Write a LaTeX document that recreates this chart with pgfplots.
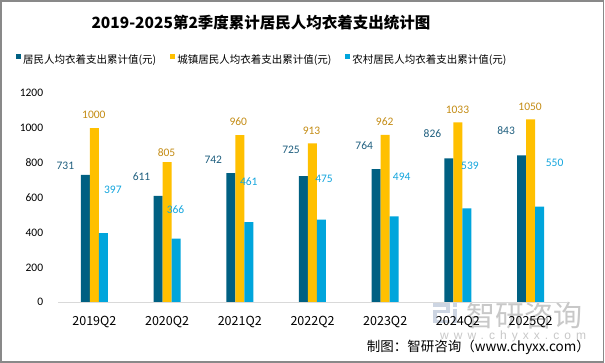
\documentclass[border=0pt]{standalone}
\usepackage{pgfplots}
\pgfplotsset{compat=1.18}
\usepackage{pgfplotstable}
\usepackage{fontspec}
\setmainfont{Carlito}
\newfontfamily\cjk{Noto Sans CJK SC}
\newfontfamily\wmfont{Liberation Sans}[LetterSpace=42]
\definecolor{cA}{RGB}{0,96,130}
\definecolor{cB}{RGB}{255,192,0}
\definecolor{cC}{RGB}{0,165,220}
\definecolor{lA}{RGB}{31,95,127}
\definecolor{lB}{RGB}{196,140,20}
\definecolor{lC}{RGB}{20,166,222}
\definecolor{axgray}{RGB}{217,217,217}
\definecolor{frame}{RGB}{137,137,137}
\definecolor{wmgray}{RGB}{200,200,200}
\definecolor{wmblue}{RGB}{205,213,226}
\newcommand{\legfont}{\cjk\fontsize{10.5bp}{12bp}\selectfont}

\pgfplotstableread{
x a b c adx ady bdx bdy cdx cdy
0 731 1000 397 -20 9.0 -0.5 13.1 9.5 43.2
1 611 805 366 -16.5 19.2 -0.5 9.4 -0.5 28.6
2 742 960 461 -17.5 13.1 -1.5 13.1 0 40
3 725 913 475 -12.5 26 -1 12.3 2.5 40.6
4 764 962 494 -12 23.2 -0.5 12.7 7.5 39.3
5 826 1033 539 -16.5 24.4 -0.5 12.4 3 42.4
6 843 1050 550 -15.5 24.5 -0.5 12.7 15 43.8
}\datatable

\begin{document}
\begin{tikzpicture}
\path[use as bounding box] (0,0) rectangle (605bp,363bp);
\fill[white] (0,0) rectangle (605bp,363bp);
\draw[frame, line width=1.5bp] (1bp,1bp) rectangle (603.5bp,362bp);

% watermark
\begin{scope}[wmblue]
\fill (433bp,56bp) rectangle (450bp,60bp);
\fill (446bp,50bp) rectangle (450bp,60bp);
\fill (433bp,50bp) rectangle (450bp,53bp);
\fill (433bp,40bp) rectangle (437bp,53bp);
\fill (433bp,40bp) rectangle (450bp,43bp);
\fill (453bp,56bp) rectangle (457bp,60bp);
\fill (453bp,40bp) rectangle (457bp,54bp);
\end{scope}
\node[wmgray, font=\cjk\fontsize{29bp}{32bp}\selectfont, inner sep=0pt, anchor=west] at (466bp,47bp) {智研咨询};
\node[wmgray, font=\wmfont\fontsize{12bp}{14bp}\selectfont, inner sep=0pt, anchor=west] at (440bp,27bp) {www.chyxx.com};

\node[font=\cjk\bfseries\fontsize{15.5bp}{18bp}\selectfont, inner sep=0pt] at (261bp,340bp) {2019-2025第2季度累计居民人均衣着支出统计图};

\node[font=\cjk\fontsize{13.5bp}{15bp}\selectfont, inner sep=0pt, anchor=east] at (590bp,16bp) {制图：智研咨询（www.chyxx.com）};

\begin{axis}[
  at={(58bp,60.7bp)}, anchor=south west,
  scale only axis, width=509bp, height=209bp,
  xmin=-0.5, xmax=6.5, ymin=0, ymax=1200,
  ybar=0pt, bar width=9bp,
  clip=false,
  axis line style={draw=none},
  major tick length=0pt, tick style={draw=none},
  xtick={0,1,2,3,4,5,6},
  xticklabels={2019Q2,2020Q2,2021Q2,2022Q2,2023Q2,2024Q2,2025Q2},
  ytick={0,200,400,600,800,1000,1200},
  /pgf/number format/assume math mode=true,
  /pgf/number format/1000 sep={},
  yticklabel style={font=\fontsize{11.5bp}{13bp}\selectfont, inner sep=0pt, anchor=east, xshift=-14.7bp},
  xticklabel style={font=\cjk\fontsize{12.5bp}{14bp}\selectfont, inner sep=0pt, anchor=center, yshift=-19.4bp},
  legend columns=3,
  legend image code/.code={\fill[#1] (0bp,1.5bp) rectangle (5bp,6.5bp);},
  legend style={at={(-0.0825,1.159)}, anchor=west, draw=none, fill=none, inner sep=0pt,
    font=\legfont, cells={font=\legfont},
    /tikz/every even column/.append style={column sep=12bp}},
  legend cell align=left,
]
\addplot[fill=cA, draw=none, nodes near coords,
  visualization depends on={\thisrow{adx} \as \dx},
  visualization depends on={\thisrow{ady} \as \dy},
  every node near coord/.append style={text=lA, anchor=center, inner sep=0pt,
    xshift={\dx*1bp}, yshift={\dy*1bp}, font=\fontsize{11.5bp}{13bp}\selectfont}]
  table[x=x, y=a]{\datatable};
\addlegendentry{\legfont 居民人均衣着支出累计值(元)}
\addplot[fill=cB, draw=none, nodes near coords,
  visualization depends on={\thisrow{bdx} \as \dx},
  visualization depends on={\thisrow{bdy} \as \dy},
  every node near coord/.append style={text=lB, anchor=center, inner sep=0pt,
    xshift={\dx*1bp}, yshift={\dy*1bp}, font=\fontsize{11.5bp}{13bp}\selectfont}]
  table[x=x, y=b]{\datatable};
\addlegendentry{\legfont 城镇居民人均衣着支出累计值(元)}
\addplot[fill=cC, draw=none, nodes near coords,
  visualization depends on={\thisrow{cdx} \as \dx},
  visualization depends on={\thisrow{cdy} \as \dy},
  every node near coord/.append style={text=lC, anchor=center, inner sep=0pt,
    xshift={\dx*1bp}, yshift={\dy*1bp}, font=\fontsize{11.5bp}{13bp}\selectfont}]
  table[x=x, y=c]{\datatable};
\addlegendentry{\legfont 农村居民人均衣着支出累计值(元)}
\draw[axgray, line width=1bp] (rel axis cs:0,0) -- (rel axis cs:1,0);
\end{axis}
\end{tikzpicture}
\end{document}
